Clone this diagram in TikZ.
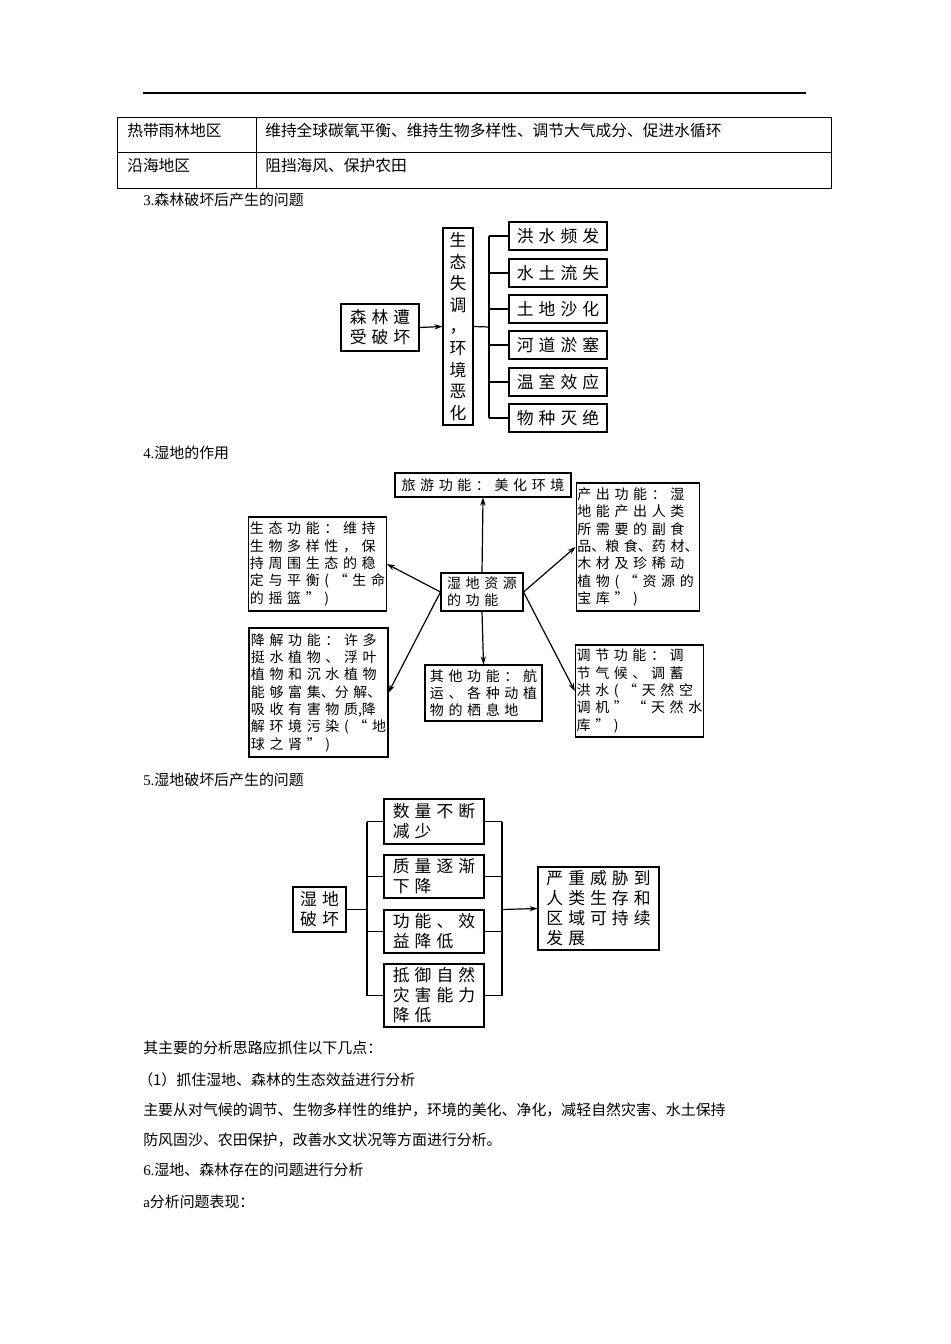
\documentclass[tikz,border=0pt]{standalone}
\usepackage{fontspec}
\setmainfont{Liberation Serif}
\newfontfamily\cjk{Noto Sans CJK SC}
\newfontfamily\cjkA[LetterSpace=30]{Noto Sans CJK SC}
\newfontfamily\cjkB[LetterSpace=33]{Noto Sans CJK SC}
\usetikzlibrary{arrows.meta}
\begin{document}
\begin{tikzpicture}[x=0.75pt,y=-0.75pt,
  bx/.style={draw,line width=0.8pt,inner sep=1pt},
  big/.style={font=\cjkA\fontsize{12.6pt}{15pt}\selectfont},
  mid/.style={font=\cjkB\fontsize{10.5pt}{13pt}\selectfont,align=left},
  txt/.style={anchor=west,inner sep=0pt,font=\cjk\fontsize{11.2pt}{13pt}\selectfont},
  tb/.style={anchor=west,inner sep=0pt,font=\cjk\fontsize{11.8pt}{13pt}\selectfont},
  ln/.style={line width=0.9pt},
  ar/.style={line width=0.9pt,-{Stealth[length=6pt,width=4pt]}}]
\useasboundingbox (0,0) rectangle (950,1344);
\fill[white] (0,0) rectangle (950,1344);
% header rule and table
\draw[line width=1pt] (143,93) -- (806,93);
\draw[line width=0.7pt] (117,117) rectangle (831,188);
\draw[line width=0.7pt] (117,152) -- (831,152);
\draw[line width=0.7pt] (256,117) -- (256,188);
\node[tb] (t1) at (127,131) {热带雨林地区};
\node[tb] (t2) at (265,131) {维持全球碳氧平衡、维持生物多样性、调节大气成分、促进水循环};
\node[tb] (t3) at (127,166) {沿海地区};
\node[tb] (t4) at (265,166) {阻挡海风、保护农田};
\node[txt] (h3) at (143,200) {{\rmfamily 3.}森林破坏后产生的问题};
% diagram 1
\node[bx,big,align=center,minimum width=78*0.75pt,minimum height=47*0.75pt] (A) at (380,327.5) {森林遭\\受破坏};
\node[bx,font=\cjk\fontsize{12.6pt}{16.2pt}\selectfont,align=center,minimum width=30*0.75pt,minimum height=197*0.75pt] (B) at (458,326.5) {生\\态\\失\\调\\，\\环\\境\\恶\\化};
\foreach \n/\y/\t in {r1/236/洪水频发,r2/273/水土流失,r3/309/土地沙化,r4/345/河道淤塞,r5/382/温室效应,r6/418/物种灭绝}{
  \node[bx,big,minimum width=98*0.75pt,minimum height=28*0.75pt] (\n) at (558,\y) {\t};
  \draw[ln] (489,\y) -- (\n.west);
}
\draw[ar] (A.east) -- (B.west);
\coordinate (bj) at (489,327);
\draw[ln] (B.east) -- (bj);
\draw[ln] (489,236) -- (489,418);
\node[txt] (h4) at (143,453) {{\rmfamily 4.}湿地的作用};
% diagram 2
\node[bx,mid,minimum width=176*0.75pt,minimum height=24*0.75pt] (tour) at (483,485) {旅游功能：美化环境};
\node[bx,mid,minimum width=137*0.75pt,minimum height=94*0.75pt] (eco) at (317.5,564) {生态功能：维持\\生物多样性，保\\持周围生态的稳\\定与平衡(“生命\\的摇篮”)};
\node[bx,mid,minimum width=118*0.75pt,minimum height=128*0.75pt] (out) at (638,547) {产出功能：湿\\地能产出人类\\所需要的副食\\品{\cjk、}粮食{\cjk、}药材{\cjk、}\\木材及珍稀动\\植物(“资源的\\宝库”)};
\node[bx,mid,minimum width=82*0.75pt,minimum height=38*0.75pt] (c) at (482,592) {湿地资源\\的功能};
\node[bx,mid,minimum width=139*0.75pt,minimum height=129*0.75pt] (deg) at (318.5,692.5) {降解功能：许多\\挺水植物、浮叶\\植物和沉水植物\\能够富集{\cjk、}分解{\cjk、}\\吸收有害物质{\cjk,}降\\解环境污染(“地\\球之肾”)};
\node[bx,mid,minimum width=117*0.75pt,minimum height=56*0.75pt] (oth) at (483.5,693) {其他功能：航\\运、各种动植\\物的栖息地};
\node[bx,mid,minimum width=119*0.75pt,minimum height=92*0.75pt] (adj) at (639.5,691) {调节功能：调\\节气候、调蓄\\洪水(“天然空\\调机”“天然水\\库”)};
\draw[ar] (c.north) -- (tour.south);
\draw[ar] (c.west) -- (eco.east);
\draw[ar] (c.west) -- (deg.east);
\draw[ar] (c.south) -- (oth.north);
\draw[ar] (c.east) -- (out.west);
\draw[ar] (c.east) -- (adj.west);
\node[txt] (h5) at (143,780) {{\rmfamily 5.}湿地破坏后产生的问题};
% diagram 3
\tikzset{big3/.style={font=\cjkA\fontsize{12.6pt}{15pt}\selectfont,align=left}}
\node[bx,big3,minimum width=53*0.75pt,minimum height=45*0.75pt] (W) at (319.5,909.5) {湿地\\破坏};
\node[bx,big3,minimum width=100*0.75pt,minimum height=45*0.75pt] (m1) at (434,821.5) {数量不断\\减少\phantom{不断}};
\node[bx,big3,minimum width=100*0.75pt,minimum height=43*0.75pt] (m2) at (434,876.5) {质量逐渐\\下降\phantom{逐渐}};
\node[bx,big3,minimum width=100*0.75pt,minimum height=43*0.75pt] (m3) at (434,931.5) {功能、效\\益降低\phantom{效}};
\node[bx,big3,minimum width=100*0.75pt,minimum height=63*0.75pt] (m4) at (434,995.5) {抵御自然\\灾害能力\\降低\phantom{能力}};
\node[bx,big3,minimum width=121*0.75pt,minimum height=83*0.75pt] (R) at (598.5,908.5) {严重威胁到\\人类生存和\\区域可持续\\发展\phantom{可持续}};
\coordinate (wl) at (367,909.5);
\coordinate (wr) at (502,909.5);
\draw[ln] (W.east) -- (wl);
\draw[ln] (367,821.5) -- (367,995.5);
\draw[ln] (502,821.5) -- (502,995.5);
\foreach \n in {m1,m2,m3,m4}{
  \draw[ln] (367,0 |- \n.west) -- (\n.west);
  \draw[ln] (\n.east) -- (502,0 |- \n.east);
}
\draw[ar] (wr) -- (R.west);
% text
\node[txt] (p1) at (143,1048) {其主要的分析思路应抓住以下几点：};
\node[txt] (p2) at (138,1080) {（1）抓住湿地、森林的生态效益进行分析};
\node[txt] (p3) at (143,1110) {主要从对气候的调节、生物多样性的维护，环境的美化、净化，减轻自然灾害、水土保持};
\node[txt] (p4) at (143,1140) {防风固沙、农田保护，改善水文状况等方面进行分析。};
\node[txt] (p5) at (143,1170) {{\rmfamily 6.}湿地、森林存在的问题进行分析};
\node[txt] (p6) at (143,1202) {{\rmfamily a}分析问题表现：};
\end{tikzpicture}
\end{document}
